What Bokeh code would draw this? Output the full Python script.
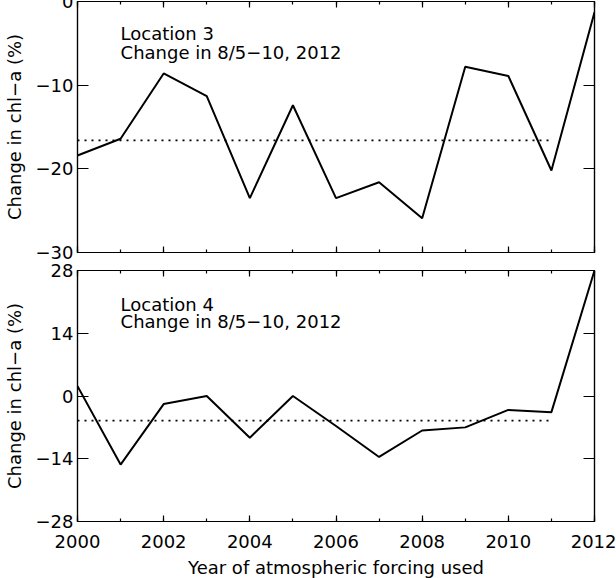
from bokeh.plotting import figure
from bokeh.models import Range1d, FixedTicker, LinearAxis, Label
from bokeh.layouts import column
from bokeh.embed import file_html
from bokeh.resources import INLINE

# ---- data ----
years = list(range(2000, 2013))
loc3 = [-18.4, -16.4, -8.6, -11.3, -23.5, -12.4, -23.5, -21.6, -25.9, -7.8, -8.9, -20.2, -1.3]
loc4 = [2.2, -15.3, -1.8, 0.0, -9.3, 0.0, -6.7, -13.6, -7.7, -7.0, -3.1, -3.6, 28.0]
mean_years = [2000, 2011]
mean3 = [-16.6, -16.6]
mean4 = [-5.5, -5.5]

x_major = [2000, 2002, 2004, 2006, 2008, 2010, 2012]
x_minor = list(range(2000, 2013))
x_labels = ["2000", "2002", "2004", "2006", "2008", "2010", "2012"]

y3_ticks = [-30, -20, -10, 0]
y3_labels = ["\u221230", "\u221220", "\u221210", "0"]
y4_ticks = [-28, -14, 0, 14, 28]
y4_labels = ["\u221228", "\u221214", "0", "14", "28"]

title3 = ["Location 3", "Change in 8/5\u221210, 2012"]
title4 = ["Location 4", "Change in 8/5\u221210, 2012"]
ylabel = "Change in chl\u2212a (%)"
xlabel = "Year of atmospheric forcing used"

FONT = "DejaVu Sans"
FS = "18px"


def style_axis(ax, ticks, minor, labels, major_in, minor_in, show_labels):
    ax.ticker = FixedTicker(ticks=ticks, minor_ticks=minor)
    ax.major_tick_in = major_in
    ax.major_tick_out = 0
    ax.minor_tick_in = minor_in
    ax.minor_tick_out = 0
    ax.axis_line_color = "black"
    ax.axis_line_width = 1.2
    ax.major_tick_line_color = "black"
    ax.major_tick_line_width = 1.2
    ax.minor_tick_line_color = "black"
    ax.minor_tick_line_width = 1.2
    ax.major_label_text_font = FONT
    ax.axis_label_text_font = FONT
    ax.axis_label_text_font_size = FS
    ax.axis_label_text_font_style = "normal"
    ax.axis_label_text_color = "black"
    if show_labels:
        ax.major_label_text_color = "black"
        ax.major_label_text_font_size = FS
        ax.major_label_overrides = {t: l for t, l in zip(ticks, labels)}
    else:
        ax.major_label_text_color = None
        ax.major_label_text_alpha = 0
        ax.major_label_text_font_size = "0px"
        ax.major_label_overrides = {t: "" for t in ticks}
        ax.major_label_standoff = 0


def make_fig(values, mean_vals, yr, yticks, ylabels, titles, label_ys,
             top_border, bottom, show_x):
    p = figure(frame_width=517, frame_height=251,
               x_range=Range1d(2000, 2012), y_range=Range1d(*yr),
               output_backend="svg", toolbar_location=None,
               min_border_left=77, min_border_right=22,
               min_border_top=top_border, min_border_bottom=bottom)
    p.grid.visible = False
    p.outline_line_color = "black"
    p.outline_line_width = 1.2
    p.background_fill_color = "white"
    p.border_fill_color = "white"

    xb = p.xaxis[0]
    style_axis(xb, x_major, x_minor, x_labels, 6, 3, show_x)
    if show_x:
        xb.major_label_standoff = 13
        xb.axis_label = xlabel
        xb.axis_label_standoff = 6
    yl = p.yaxis[0]
    style_axis(yl, yticks, [], ylabels, 11, 0, True)
    yl.major_label_standoff = 4
    yl.axis_label = ylabel
    yl.axis_label_standoff = 8

    xt = LinearAxis()
    style_axis(xt, x_major, x_minor, x_labels, 6, 3, False)
    p.add_layout(xt, "above")
    yr_ax = LinearAxis()
    style_axis(yr_ax, yticks, [], ylabels, 11, 0, False)
    p.add_layout(yr_ax, "right")

    p.line(years, values, line_color="black", line_width=2)
    p.line(mean_years, mean_vals, line_color="black", line_width=1.6, line_dash="2 5")

    for t, yv in zip(titles, label_ys):
        p.add_layout(Label(x=2001, y=yv, text=t, text_font=FONT, text_font_size=FS,
                           text_color="black", text_baseline="alphabetic"))
    return p


p1 = make_fig(loc3, mean3, (-30, 0), y3_ticks, y3_labels, title3, [-3.88, -6.08],
              8, 9, False)
p2 = make_fig(loc4, mean4, (-28, 28), y4_ticks, y4_labels, title4, [20.5, 16.7],
              9, 0, True)

layout = column(p1, p2, spacing=0, margin=(-7, 0, -20, 0))

open("out.html", "w").write(file_html(layout, INLINE))
